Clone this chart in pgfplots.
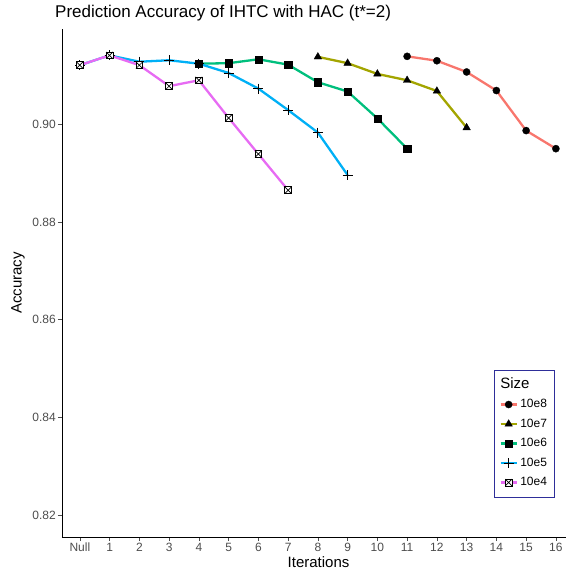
\documentclass[border=0pt]{standalone}
\usepackage{fontspec}
\setmainfont{Liberation Sans}
\usepackage{pgfplots}
\pgfplotsset{compat=1.18}
\definecolor{c8}{HTML}{F8766D}
\definecolor{c7}{HTML}{A3A500}
\definecolor{c6}{HTML}{00BF7D}
\definecolor{c5}{HTML}{00B0F6}
\definecolor{c4}{HTML}{E76BF3}
\definecolor{tickgrey}{HTML}{4D4D4D}
\definecolor{legbord}{HTML}{2E2E99}
\pgfdeclareplotmark{sqx}{%
  \pgfpathrectangle{\pgfpoint{-\pgfplotmarksize}{-\pgfplotmarksize}}{\pgfpoint{2\pgfplotmarksize}{2\pgfplotmarksize}}%
  \pgfusepathqfillstroke
  \pgfpathmoveto{\pgfpoint{-\pgfplotmarksize}{-\pgfplotmarksize}}%
  \pgfpathlineto{\pgfpoint{\pgfplotmarksize}{\pgfplotmarksize}}%
  \pgfpathmoveto{\pgfpoint{-\pgfplotmarksize}{\pgfplotmarksize}}%
  \pgfpathlineto{\pgfpoint{\pgfplotmarksize}{-\pgfplotmarksize}}%
  \pgfusepathqstroke}
\begin{document}
\begin{tikzpicture}
\begin{axis}[name=ax, at={(0,0)}, anchor=south west,
  scale only axis, width=504pt, height=508pt,
  xmin=-0.6, xmax=16.34, ymin=0.8155, ymax=0.9195,
  axis lines*=left,
  axis line style={black, line width=0.8pt},
  xtick={0,1,...,16},
  xticklabels={Null,1,2,3,4,5,6,7,8,9,10,11,12,13,14,15,16},
  ytick={0.82,0.84,0.86,0.88,0.90},
  yticklabel style={/pgf/number format/fixed, /pgf/number format/fixed zerofill, /pgf/number format/precision=2},
  /pgf/number format/assume math mode=true,
  tick style={tickgrey, line width=0.7pt},
  tick align=outside, major tick length=4pt,
  ticklabel style={font=\fontsize{12}{14}\selectfont, text=tickgrey},
  xticklabel style={inner sep=2pt},
  yticklabel style={inner sep=2pt},
  xlabel={Iterations}, ylabel={Accuracy},
  label style={font=\fontsize{15}{17}\selectfont},
  xlabel style={at={(axis description cs:0.509,-0.049)}, anchor=center},
  ylabel style={at={(axis description cs:-0.0873,0.5)}, anchor=center},
  clip=false,
  legend style={at={(0.978,0.329)}, anchor=north east, draw=legbord, line width=0.8pt,
    font=\fontsize{12}{14}\selectfont, row sep=0pt, inner sep=5pt,
    nodes={inner sep=2.5pt, text height=10.5pt, text depth=4pt},
    cells={anchor=west}},
  legend image code/.code={\draw[mark repeat=2,mark phase=2] plot coordinates {(0pt,0pt) (8pt,0pt) (16pt,0pt)};},
  every axis plot/.append style={line width=2.3pt},
]
\addlegendimage{empty legend}
\addlegendentry{\hspace{-20pt}\fontsize{15}{17}\selectfont Size}
\addplot[color=c8, mark=*, mark size=3.6pt, mark options={fill=black, draw=black, line width=0.3pt}]
  coordinates {(11,0.9139) (12,0.9130) (13,0.9107) (14,0.9069) (15,0.8987) (16,0.8950)};
\addlegendentry{10e8}
\addplot[color=c7, mark=triangle*, mark size=4.4pt, mark options={fill=black, draw=black, line width=0.3pt}]
  coordinates {(8,0.9138) (9,0.9125) (10,0.9103) (11,0.9090) (12,0.9068) (13,0.8993)};
\addlegendentry{10e7}
\addplot[color=c6, mark=square*, mark size=3.6pt, mark options={fill=black, draw=black, line width=0.3pt}]
  coordinates {(4,0.9124) (5,0.9125) (6,0.9133) (7,0.9122) (8,0.9086) (9,0.9067) (10,0.9012) (11,0.8950)};
\addlegendentry{10e6}
\addplot[color=c5, mark=+, mark size=5pt, mark options={draw=black, line width=0.8pt}]
  coordinates {(0,0.9121) (1,0.9141) (2,0.9128) (3,0.9131) (4,0.9124) (5,0.9105) (6,0.9073) (7,0.9029) (8,0.8983) (9,0.8896)};
\addlegendentry{10e5}
\addplot[color=c4, mark=sqx, mark size=3.4pt, mark options={fill=white, draw=black, line width=0.7pt}]
  coordinates {(0,0.9121) (1,0.9141) (2,0.9121) (3,0.9078) (4,0.9090) (5,0.9013) (6,0.8939) (7,0.8865)};
\addlegendentry{10e4}
\end{axis}
\node[anchor=base west, font=\fontsize{17}{19}\selectfont, inner sep=0pt] at ([xshift=-7pt,yshift=519pt]ax.south west) {Prediction Accuracy of IHTC with HAC (t*=2)};
\pgfresetboundingbox
\useasboundingbox ([xshift=-62pt,yshift=-36pt]ax.south west) rectangle ++(566pt,573pt);
\end{tikzpicture}
\end{document}
